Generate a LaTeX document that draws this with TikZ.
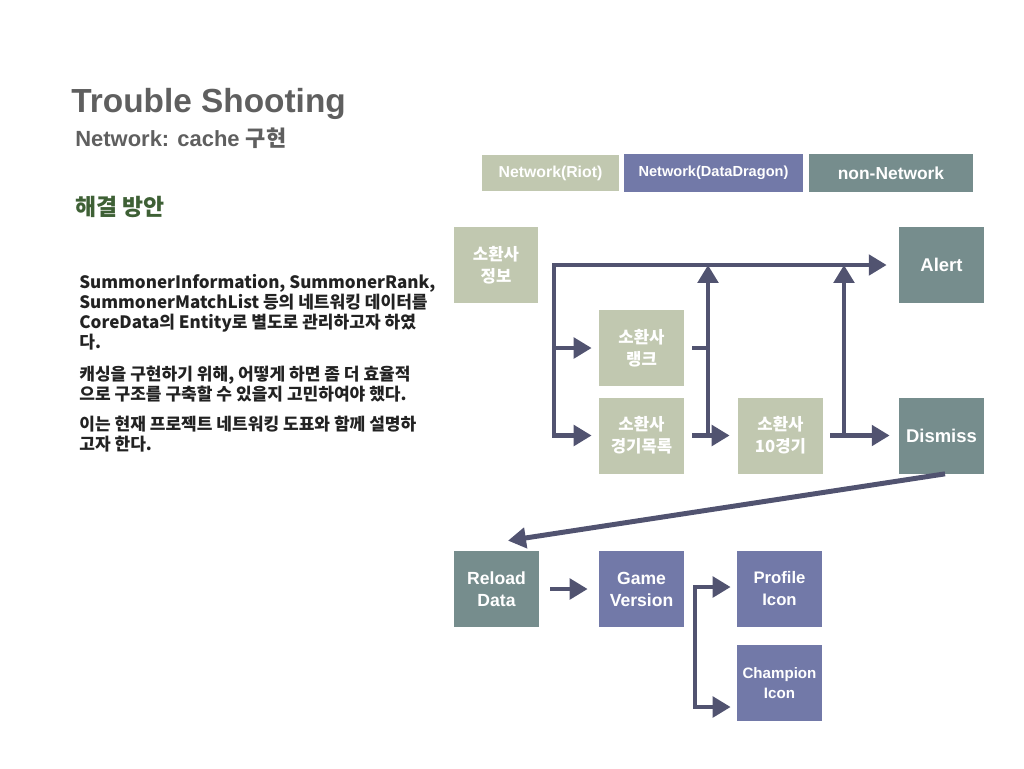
\documentclass[tikz,border=0pt]{standalone}
\usepackage{fontspec}
\setmainfont{Liberation Sans}
\newfontfamily\kr{Noto Sans CJK KR}
\usetikzlibrary{arrows.meta,calc,positioning}
\definecolor{RiotGreen}{RGB}{193,200,176}
\definecolor{DragonPurple}{RGB}{114,121,168}
\definecolor{LocalTeal}{RGB}{118,141,141}
\definecolor{ArrowInk}{RGB}{81,83,112}
\definecolor{TitleGray}{RGB}{95,95,95}
\definecolor{HeadGreen}{RGB}{62,96,53}
\definecolor{BodyInk}{RGB}{34,34,34}

\tikzset{
	block/.style={minimum width=1.70cm,minimum height=1.52cm,inner sep=0pt,align=center,
		text=white,font=\bfseries\fontsize{10}{12.5}\selectfont},
	riot/.style={block,fill=RiotGreen,font=\kr\bfseries\fontsize{9.5}{12.5}\selectfont},
	ddragon/.style={block,fill=DragonPurple},
	local/.style={block,fill=LocalTeal},
	legend/.style={inner sep=0pt,text=white,font=\bfseries\fontsize{9}{11}\selectfont},
	para/.style={anchor=north west,inner sep=0pt,align=left,text=BodyInk,
		font=\kr\bfseries\fontsize{9.7}{11.3}\selectfont},
	wire/.style={draw=ArrowInk,line width=2.83pt},
}

\begin{document}
\begin{tikzpicture}[x=0.02cm,y=-0.02cm,>={Triangle[length=10.2pt,width=11.5pt]}]
	\useasboundingbox (0,0) rectangle (1024,768);

	% 제목
	\node[anchor=base west,inner sep=0pt,text=TitleGray,font=\bfseries\fontsize{19}{22}\selectfont] (title) at (71,112) {Trouble Shooting};
	\node[anchor=base west,inner sep=0pt,text=TitleGray,font=\bfseries\fontsize{12.5}{15}\selectfont] (subtitle) at (75,146) {Network: cache {\kr\bfseries 구현}};
	\node[anchor=base west,inner sep=0pt,text=HeadGreen,font=\kr\bfseries\fontsize{13}{15}\selectfont] (heading) at (75,215) {해결 방안};

	% 본문
	\node[para] (para1) at (79,274) {SummonerInformation, SummonerRank,\\SummonerMatchList 등의 네트워킹 데이터를\\CoreData의 Entity로 별도로 관리하고자 하였\\다.};
	\node[para] (para2) at (79,366) {캐싱을 구현하기 위해, 어떻게 하면 좀 더 효율적\\으로 구조를 구축할 수 있을지 고민하여야 했다.};
	\node[para] (para3) at (79,416) {이는 현재 프로젝트 네트워킹 도표와 함께 설명하\\고자 한다.};

	% 범례
	\node[legend,fill=RiotGreen,minimum width=2.74cm,minimum height=0.72cm] (lgRiot) at (550.5,173) {Network(Riot)};
	\node[legend,fill=DragonPurple,minimum width=3.58cm,minimum height=0.76cm,font=\bfseries\fontsize{8.3}{10}\selectfont] (lgDragon) at (713.5,173) {Network(DataDragon)};
	\node[legend,fill=LocalTeal,minimum width=3.28cm,minimum height=0.76cm,font=\bfseries\fontsize{9.9}{12}\selectfont] (lgLocal) at (891,173) {non-Network};

	% 블록
	\node[riot] (info) at (496,265) {소환사\\정보};
	\node[local,font=\bfseries\fontsize{10.5}{12.5}\selectfont] (alert) at (941.5,265) {Alert};
	\node[riot] (rank) at (641.5,348) {소환사\\랭크};
	\node[riot] (matches) at (641.5,435.5) {소환사\\경기목록};
	\node[riot] (ten) at (780.5,435.5) {소환사\\10경기};
	\node[local,font=\bfseries\fontsize{10.5}{12.5}\selectfont] (dismiss) at (941.5,435.5) {Dismiss};
	\node[local] (reload) at (496.5,589) {Reload\\Data};
	\node[ddragon] (version) at (641.5,589) {Game\\Version};
	\node[ddragon,font=\bfseries\fontsize{9.5}{12.5}\selectfont] (profile) at (779.5,589) {Profile\\Icon};
	\node[ddragon,font=\bfseries\fontsize{8.6}{11.5}\selectfont] (champion) at (779.5,683) {Champion\\Icon};

	\coordinate (spine) at (554,265);
	\coordinate (col1) at (708,265);
	\coordinate (col2) at (844,265);
	\coordinate (fork) at (695,587);
	\coordinate (champIn) at ([yshift=-0.48cm]champion.west);

	% 화살표
	\draw[wire,<->,shorten <=0.14cm,shorten >=0.24cm] (matches.west) -- (spine |- matches) -- (spine) -- (spine -| alert.west);
	\draw[wire,->,shorten >=0.14cm] (spine |- rank) -- (rank.west);
	\draw[wire] ([xshift=0.16cm]rank.east) -- (col1 |- rank);
	\draw[wire,->] (col1 |- matches) -- (col1);
	\draw[wire,->,shorten >=0.16cm] ([xshift=0.16cm]matches.east) -- (ten.west);
	\draw[wire,->,shorten >=0.18cm] ([xshift=0.14cm]ten.east) -- (dismiss.west);
	\draw[wire,->] (col2 |- ten) -- (col2);
	\draw[wire,->] ([xshift=0.07cm]dismiss.south) -- ([shift={(11.5,-10)}]reload.north);
	\draw[wire,->,shorten >=0.22cm] ([xshift=0.22cm]reload.east) -- (version.west);
	\draw[wire,<->,shorten <=0.12cm,shorten >=0.12cm] (profile.west |- fork) -- (fork) -- (fork |- champIn) -- (champIn);
\end{tikzpicture}
\end{document}
